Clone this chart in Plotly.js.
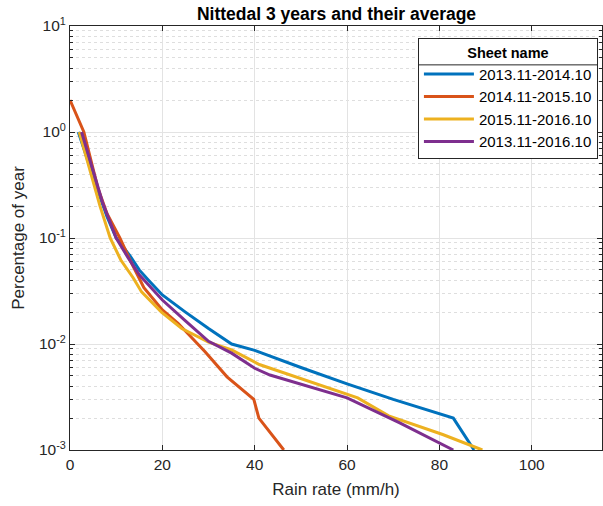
<!DOCTYPE html>
<html>
<head>
<meta charset="utf-8">
<script src="https://cdn.plot.ly/plotly-3.0.1.min.js"></script>
<style>
  html, body { margin: 0; padding: 0; background: #ffffff; }
  #chart { width: 603px; height: 506px; }
</style>
</head>
<body>
<div id="chart"></div>
<script>
// Exceedance curves: share of the year (%) with rain rate above a given value
const seriesNames = ['2013.11-2014.10', '2014.11-2015.10', '2015.11-2016.10', '2013.11-2016.10'];

const rate1 = [1.8, 4, 6, 8, 10, 13, 15, 17, 20, 25, 30, 35, 40, 50, 60, 70, 83, 87.5];
const pct1  = [1.0, 0.5, 0.28, 0.16, 0.1, 0.068, 0.05, 0.04, 0.029, 0.02, 0.014, 0.01, 0.0087, 0.006, 0.0042, 0.003, 0.002, 0.001];

const rate2 = [0, 3, 6, 8, 10.8, 13, 16, 20, 23.4, 29.2, 34, 39.8, 40.9, 46.3];
const pct2  = [2.0, 1.0, 0.3, 0.17, 0.1, 0.062, 0.034, 0.021, 0.0157, 0.0085, 0.0049, 0.003, 0.002, 0.001];

const rate3 = [2, 4.5, 6.5, 8.7, 11, 13.7, 15.5, 19.8, 24.2, 30, 35, 41, 50, 62.3, 69, 80.7, 89.3];
const pct3  = [1.0, 0.4, 0.2, 0.1, 0.062, 0.042, 0.031, 0.02, 0.014, 0.0104, 0.0088, 0.0064, 0.0047, 0.0031, 0.0021, 0.0014, 0.001];

const rate4 = [2.5, 5, 7, 10, 12.5, 15, 17.5, 20, 25, 30, 35, 40, 43.3, 50, 60, 71.4, 83];
const pct4  = [1.0, 0.42, 0.22, 0.1, 0.066, 0.045, 0.034, 0.026, 0.0165, 0.0106, 0.0082, 0.0059, 0.0051, 0.0042, 0.0031, 0.0018, 0.001];

const yTickVals = [0.001, 0.01, 0.1, 1, 10];
const yTickText = ['10<sup>-3</sup>', '10<sup>-2</sup>', '10<sup>-1</sup>', '10<sup>0</sup>', '10<sup>1</sup>'];
const xTickVals = [0, 20, 40, 60, 80, 100];

const colors = ['#0072BD', '#D95319', '#EDB120', '#7E2F8E'];
const rates = [rate1, rate2, rate3, rate4];
const pcts = [pct1, pct2, pct3, pct4];

// minor grid positions 2..9 within each decade
const minorVals = [];
for (let e = -3; e < 1; e++) {
  for (let m = 2; m <= 9; m++) minorVals.push(m * Math.pow(10, e));
}

const traces = seriesNames.map((name, i) => ({
  x: rates[i],
  y: pcts[i],
  name: name,
  type: 'scatter',
  mode: 'lines',
  line: { color: colors[i], width: 3 },
  hoverinfo: 'skip'
}));

const axisColor = '#262626';
const fontFamily = '"Liberation Sans", Arial, Helvetica, sans-serif';

const layout = {
  width: 603,
  height: 506,
  margin: { l: 70, r: 1, t: 26, b: 56 },
  paper_bgcolor: '#ffffff',
  plot_bgcolor: '#ffffff',
  font: { family: fontFamily, color: axisColor, size: 15 },
  title: {
    text: 'Nittedal 3 years and their average',
    font: { family: fontFamily, size: 17.5, color: '#000000', weight: 'bold' },
    x: 0.5581, xanchor: 'center',
    y: 0.972, yanchor: 'middle'
  },
  xaxis: {
    type: 'linear',
    range: [0, 115.2],
    tickmode: 'array',
    tickvals: xTickVals,
    ticks: 'inside',
    ticklen: 5,
    tickcolor: axisColor,
    showline: true,
    linecolor: axisColor,
    linewidth: 1,
    mirror: 'ticks',
    showgrid: true,
    gridcolor: '#e3e3e3',
    gridwidth: 1,
    zeroline: false,
    tickfont: { size: 15.5, color: axisColor },
    title: { text: 'Rain rate (mm/h)', font: { size: 17, color: axisColor }, standoff: 11 }
  },
  yaxis: {
    type: 'log',
    range: [-3, 1],
    tickmode: 'array',
    tickvals: yTickVals,
    ticktext: yTickText,
    ticks: 'inside',
    ticklen: 5,
    tickcolor: axisColor,
    showline: true,
    linecolor: axisColor,
    linewidth: 1,
    mirror: 'ticks',
    showgrid: true,
    gridcolor: '#e3e3e3',
    gridwidth: 1,
    zeroline: false,
    tickfont: { size: 15.5, color: axisColor },
    title: { text: 'Percentage of year', font: { size: 17, color: axisColor }, standoff: 10 },
    minor: {
      tickmode: 'array',
      tickvals: minorVals,
      ticks: 'inside',
      ticklen: 3,
      tickcolor: axisColor,
      showgrid: true,
      gridcolor: '#dedede',
      griddash: 'dot',
      gridwidth: 1
    }
  },
  showlegend: true,
  legend: {
    x: 0.654, xanchor: 'left',
    y: 0.972, yanchor: 'top',
    bgcolor: '#ffffff',
    bordercolor: axisColor,
    borderwidth: 1,
    itemwidth: 50,
    font: { size: 15, color: '#000000' },
    tracegroupgap: 0,
    title: {
      text: 'Sheet name',
      side: 'top center',
      font: { size: 14.5, color: '#000000', weight: 'bold' }
    }
  }
};

const gd = document.getElementById('chart');
Plotly.newPlot(gd, traces, layout, { staticPlot: true, displayModeBar: false }).then(() => {
  // rule under the legend title, drawn inside the legend group so it sits on top of its background
  const bg = gd.querySelector('g.legend rect.bg');
  if (!bg) return;
  const box = bg.getBBox();
  const ns = 'http://www.w3.org/2000/svg';
  const rule = document.createElementNS(ns, 'line');
  rule.setAttribute('x1', box.x);
  rule.setAttribute('x2', box.x + box.width);
  rule.setAttribute('y1', box.y + 26.5);
  rule.setAttribute('y2', box.y + 26.5);
  rule.setAttribute('stroke', axisColor);
  rule.setAttribute('stroke-width', '1');
  bg.parentNode.insertBefore(rule, bg.nextSibling);
});
</script>
</body>
</html>
